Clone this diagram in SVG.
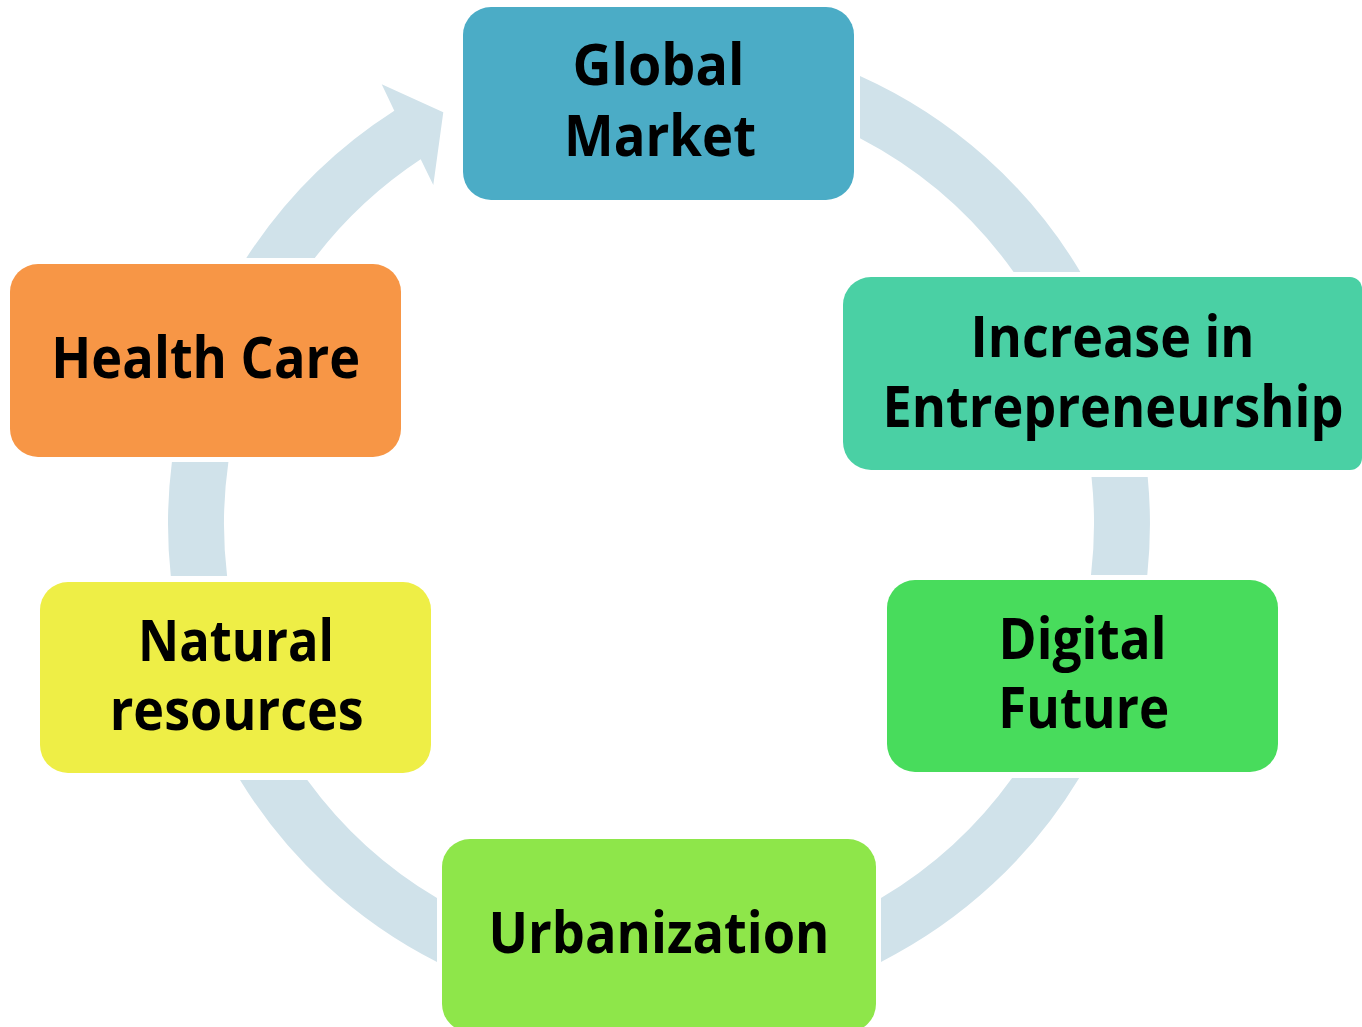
<svg xmlns="http://www.w3.org/2000/svg" width="1362" height="1027" viewBox="0 0 1362 1027">
<style>
.seg{fill:#D0E2EA;stroke:none}
.lbl{font-family:"Open Sans","Noto Sans","Liberation Sans",sans-serif;font-weight:bold;font-size:57px;fill:#000;text-anchor:middle}
</style>
<rect width="1362" height="1027" fill="#FFFFFF"/>
<g id="connectors">
<path class="seg" d="M 860 76 A 491 491 0 0 1 1080.4 272 L 1013.6 272 A 435 435 0 0 0 860 138.2 Z"/>
<path class="seg" d="M 1147.7 477 A 491 491 0 0 1 1147.3 575 L 1091 575 A 435 435 0 0 0 1091.5 477 Z"/>
<path class="seg" d="M 1079.2 778 A 491 491 0 0 1 881 961.9 L 881 898.1 A 435 435 0 0 0 1012.1 778 Z"/>
<path class="seg" d="M 437 961.9 A 491 491 0 0 1 240 780 L 307.3 780 A 435 435 0 0 0 437 898.1 Z"/>
<path class="seg" d="M 170.8 576 A 491 491 0 0 1 171.9 462 L 228.4 462 A 435 435 0 0 0 227.1 576 Z"/>
<path class="seg" d="M 246.3 258 A 491 491 0 0 1 394.3 110.7 L 381.7 84.3 L 443.3 112.3 L 433.3 185 L 420.7 159.3 A 435 435 0 0 0 314.8 258 Z"/>
</g>
<g id="global-market">
<rect x="463" y="7" width="391" height="193" rx="28" ry="28" fill="#4BACC6"/>
<text class="lbl" x="658.5" y="85" textLength="172" lengthAdjust="spacingAndGlyphs">Global</text>
<text class="lbl" x="660" y="156" textLength="192" lengthAdjust="spacingAndGlyphs">Market</text>
</g>
<g id="entrepreneurship">
<path d="M 871 277 L 1350 277 A 12 12 0 0 1 1362 289 L 1362 458 A 12 12 0 0 1 1350 470 L 871 470 A 28 28 0 0 1 843 442 L 843 305 A 28 28 0 0 1 871 277 Z" fill="#4AD0A4"/>
<text class="lbl" x="1112.5" y="357" textLength="284" lengthAdjust="spacingAndGlyphs">Increase in</text>
<text class="lbl" x="1113" y="427" textLength="461" lengthAdjust="spacingAndGlyphs">Entrepreneurship</text>
</g>
<g id="digital-future">
<rect x="887" y="580" width="391" height="192" rx="28" ry="28" fill="#48DC5C"/>
<text class="lbl" x="1082.5" y="659" textLength="168" lengthAdjust="spacingAndGlyphs">Digital</text>
<text class="lbl" x="1083.7" y="728" textLength="171" lengthAdjust="spacingAndGlyphs">Future</text>
</g>
<g id="urbanization">
<rect x="442" y="839" width="434" height="193" rx="28" ry="28" fill="#8EE64A"/>
<text class="lbl" x="659" y="953" textLength="341" lengthAdjust="spacingAndGlyphs">Urbanization</text>
</g>
<g id="natural-resources">
<rect x="40" y="582" width="391" height="191" rx="28" ry="28" fill="#EEEE46"/>
<text class="lbl" x="236" y="661" textLength="196" lengthAdjust="spacingAndGlyphs">Natural</text>
<text class="lbl" x="236.7" y="730" textLength="254" lengthAdjust="spacingAndGlyphs">resources</text>
</g>
<g id="health-care">
<rect x="10" y="264" width="391" height="193" rx="28" ry="28" fill="#F79646"/>
<text class="lbl" x="205.8" y="378" textLength="309" lengthAdjust="spacingAndGlyphs">Health Care</text>
</g>
</svg>
